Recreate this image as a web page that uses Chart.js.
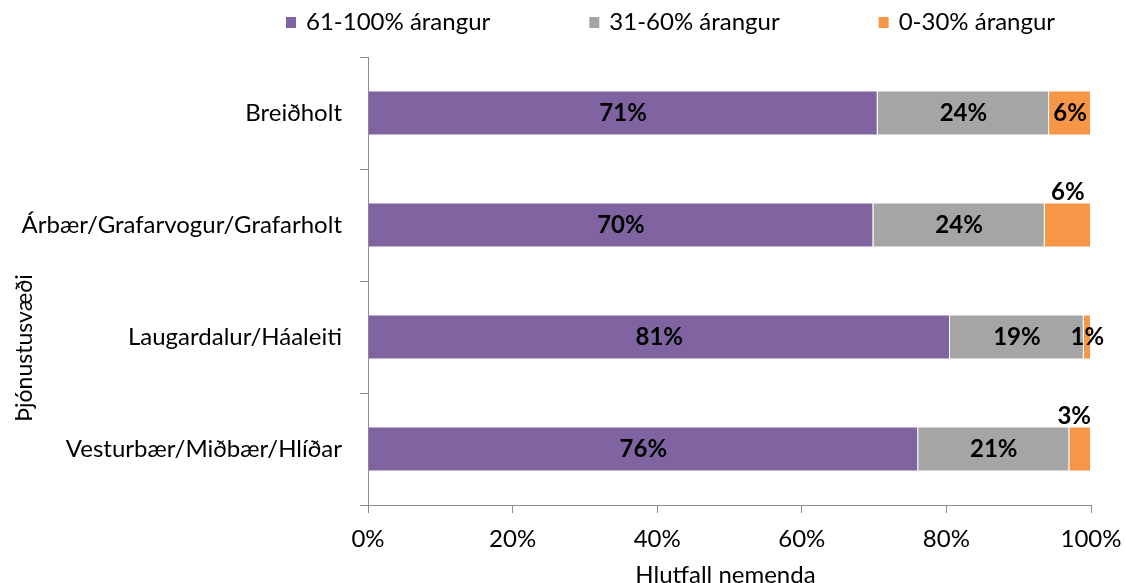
<!DOCTYPE html>
<html>
<head>
<meta charset="utf-8">
<script src="https://cdn.jsdelivr.net/npm/chart.js@4"></script>
<style>
  html, body { margin: 0; padding: 0; background: #ffffff; }
  canvas { display: block; }
</style>
</head>
<body>
<canvas id="grafNemenda" width="1126" height="583"></canvas>
<script>
// gögn lesin af myndinni
const categories = ['Breiðholt', 'Árbær/Grafarvogur/Grafarholt', 'Laugardalur/Háaleiti', 'Vesturbær/Miðbær/Hlíðar'];
const seriesNames = ['61-100% árangur', '31-60% árangur', '0-30% árangur'];
const high = [70.5, 69.9, 80.5, 76.1];
const mid = [23.7, 23.7, 18.5, 20.9];
const low = [5.8, 6.4, 1.0, 3.0];
const xTicks = [0, 20, 40, 60, 80, 100];
const xTitle = 'Hlutfall nemenda';
const yTitle = 'Þjónustusvæði';

const colors = ['#8064A2', '#A5A5A5', '#F79646'];
const axisColor = '#8C8C8C';
const fontFamily = 'Lato, "Open Sans", sans-serif';

const ctx = document.getElementById('grafNemenda').getContext('2d');

// gildismerki á súlum
const labelPlugin = {
    id: 'barLabels',
    afterDatasetsDraw(chart, args, opts) {
        const c = chart.ctx;
        c.save();
        c.font = 'bold 24px ' + fontFamily;
        c.fillStyle = '#000000';
        c.textAlign = 'center';
        c.textBaseline = 'middle';
        chart.data.datasets.forEach((ds, di) => {
            const meta = chart.getDatasetMeta(di);
            meta.data.forEach((bar, i) => {
                const p = bar.getProps(['x', 'y', 'base', 'height'], true);
                const txt = Math.round(ds.data[i]) + '%';
                let x = (p.x + p.base) / 2;
                let y = p.y;
                if (di === 2 && opts.raised.includes(i)) {
                    const w = c.measureText(txt).width;
                    x = Math.min(x, chart.chartArea.right - w / 2);
                    y = p.y - p.height / 2 - 10;
                }
                c.fillText(txt, x, y);
            });
        });
        c.restore();
    }
};

// skýringar og ásheiti
const extrasPlugin = {
    id: 'extras',
    afterDraw(chart) {
        const c = chart.ctx;
        const area = chart.chartArea;
        c.save();
        c.font = '24px ' + fontFamily;
        c.fillStyle = '#000000';
        c.textBaseline = 'middle';
        c.textAlign = 'left';
        let x = 286;
        seriesNames.forEach((name, i) => {
            c.fillStyle = colors[i];
            c.fillRect(x, 17, 10, 11);
            c.fillStyle = '#000000';
            c.fillText(name, x + 20, 22);
            x += 20 + c.measureText(name).width + 99;
        });

        c.textAlign = 'center';
        c.textBaseline = 'alphabetic';
        c.fillText(xTitle, (area.left + area.right) / 2 - 4, 583);

        c.font = '23px ' + fontFamily;
        c.translate(25, 348);
        c.rotate(-Math.PI / 2);
        c.textBaseline = 'middle';
        c.fillText(yTitle, 0, 0);
        c.restore();
    }
};

const config = {
    type: 'bar',
    data: {
        labels: categories,
        datasets: [
            { label: seriesNames[0], data: high, backgroundColor: colors[0] },
            { label: seriesNames[1], data: mid, backgroundColor: colors[1] },
            { label: seriesNames[2], data: low, backgroundColor: colors[2] }
        ].map(d => Object.assign(d, {
            borderColor: 'rgba(255,255,255,0.8)',
            borderWidth: 1,
            categoryPercentage: 1,
            barPercentage: 0.4
        }))
    },
    options: {
        indexAxis: 'y',
        responsive: false,
        animation: false,
        layout: { padding: { top: 57, right: 35, left: 0, bottom: 0 } },
        plugins: {
            legend: { display: false },
            tooltip: { enabled: false },
            barLabels: { raised: [1, 3] }
        },
        scales: {
            x: {
                stacked: true,
                min: 0,
                max: 100,
                afterBuildTicks: s => { s.ticks = xTicks.map(v => ({ value: v })); },
                afterFit: s => { s.height = 78; s.paddingLeft = 0; s.paddingRight = 0; },
                ticks: {
                    color: '#000000',
                    font: { family: fontFamily, size: 24 },
                    padding: 12,
                    maxRotation: 0,
                    callback: v => v + '%'
                },
                grid: {
                    drawOnChartArea: false,
                    drawTicks: true,
                    tickLength: 8,
                    color: axisColor
                },
                border: { display: true, color: axisColor, width: 1 }
            },
            y: {
                stacked: true,
                afterFit: s => { s.width = 368; s.paddingTop = 0; s.paddingBottom = 0; },
                ticks: {
                    color: '#000000',
                    font: { family: fontFamily, size: 24 },
                    padding: 18
                },
                grid: {
                    offset: true,
                    drawOnChartArea: false,
                    drawTicks: true,
                    tickLength: 8,
                    color: axisColor
                },
                border: { display: true, color: axisColor, width: 1 }
            }
        }
    },
    plugins: [labelPlugin, extrasPlugin]
};

const grafNemenda = new Chart(ctx, config);
</script>
</body>
</html>
